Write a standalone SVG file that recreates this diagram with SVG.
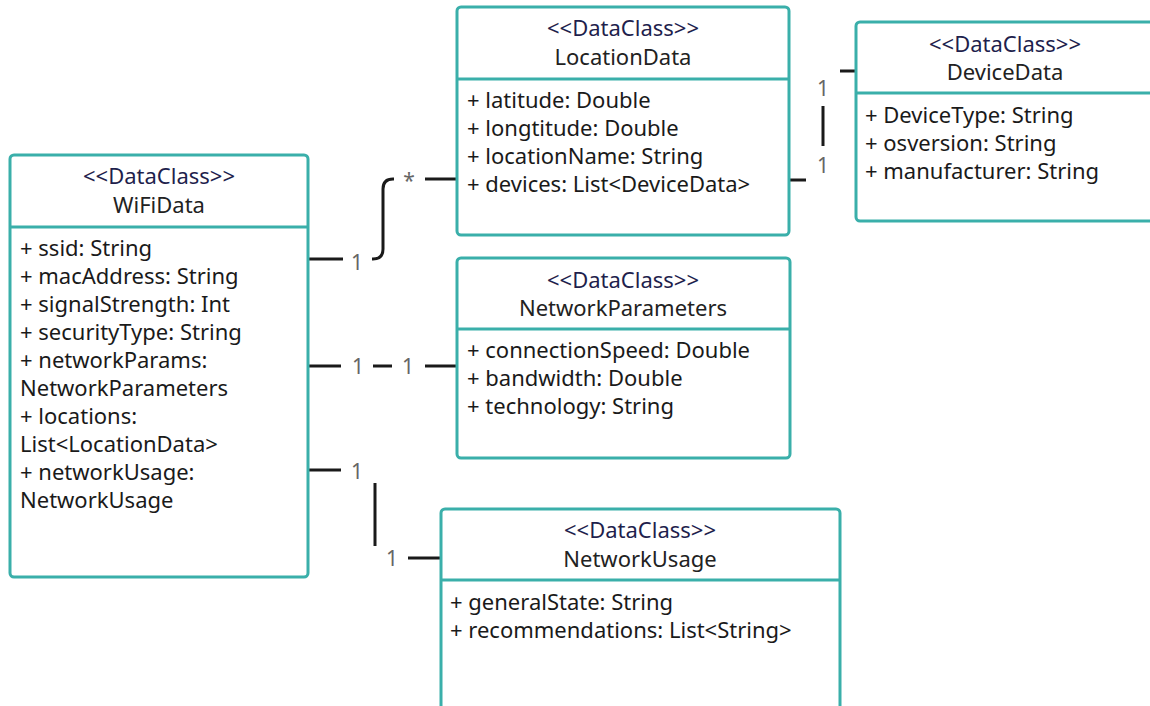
<svg xmlns="http://www.w3.org/2000/svg" width="1150" height="706" viewBox="0 0 1150 706">
<style>
.box{fill:#fff;stroke:#3aafaa;stroke-width:3}
.div{stroke:#3aafaa;stroke-width:3}
.st{font-family:"Noto Sans",sans-serif;font-size:22px;fill:#1f1f4d;text-anchor:middle}
.nm{font-family:"Noto Sans",sans-serif;font-size:22px;fill:#222;text-anchor:middle}
.at{font-family:"Noto Sans",sans-serif;font-size:22px;fill:#1a1a1a}
.conn{fill:none;stroke:#1a1a1a;stroke-width:3}
.lbl{font-family:"Noto Sans",sans-serif;font-size:21px;fill:#666;text-anchor:middle}
.bg{fill:#fff}
</style>
<rect width="1150" height="706" fill="#fff"/>
<g id="connectors">
<path class="conn" d="M308,259 H373 Q383,259 383,249 V189 Q383,179 393,179 H457"/>
<path class="conn" d="M308,366 H457"/>
<path class="conn" d="M308,470 H365 Q375,470 375,480 V548 Q375,558 385,558 H441"/>
<path class="conn" d="M789,180 H813 Q823,180 823,170 V81 Q823,71 833,71 H856"/>
<rect class="bg" x="343" y="247" width="29" height="28"/>
<text class="lbl" x="357" y="270">1</text>
<rect class="bg" x="394" y="164" width="31" height="28"/>
<text class="lbl" x="409" y="188">*</text>
<rect class="bg" x="341" y="352" width="32" height="28"/>
<text class="lbl" x="358" y="374">1</text>
<rect class="bg" x="392" y="352" width="33" height="28"/>
<text class="lbl" x="408" y="374">1</text>
<rect class="bg" x="341" y="456" width="37" height="27"/>
<text class="lbl" x="357" y="479">1</text>
<rect class="bg" x="373" y="546" width="35" height="28"/>
<text class="lbl" x="392" y="566">1</text>
<rect class="bg" x="806" y="146" width="34" height="38"/>
<text class="lbl" x="823" y="173">1</text>
<rect class="bg" x="808" y="66" width="32" height="40"/>
<text class="lbl" x="823" y="96">1</text>
</g>
<g id="WiFiData">
<rect class="box" x="10" y="155" width="298" height="422" rx="4"/>
<line class="div" x1="10" y1="227" x2="308" y2="227"/>
<text class="st" x="159" y="184">&lt;&lt;DataClass&gt;&gt;</text>
<text class="nm" x="159" y="213">WiFiData</text>
<text class="at" x="20" y="256">+ ssid: String</text>
<text class="at" x="20" y="284">+ macAddress: String</text>
<text class="at" x="20" y="312">+ signalStrength: Int</text>
<text class="at" x="20" y="340">+ securityType: String</text>
<text class="at" x="20" y="368">+ networkParams:</text>
<text class="at" x="20" y="396">NetworkParameters</text>
<text class="at" x="20" y="424">+ locations:</text>
<text class="at" x="20" y="452">List&lt;LocationData&gt;</text>
<text class="at" x="20" y="480">+ networkUsage:</text>
<text class="at" x="20" y="508">NetworkUsage</text>
</g>
<g id="LocationData">
<rect class="box" x="457" y="7" width="332" height="228" rx="4"/>
<line class="div" x1="457" y1="79" x2="789" y2="79"/>
<text class="st" x="623" y="36">&lt;&lt;DataClass&gt;&gt;</text>
<text class="nm" x="623" y="65">LocationData</text>
<text class="at" x="467" y="108">+ latitude: Double</text>
<text class="at" x="467" y="136">+ longtitude: Double</text>
<text class="at" x="467" y="164">+ locationName: String</text>
<text class="at" x="467" y="192">+ devices: List&lt;DeviceData&gt;</text>
</g>
<g id="DeviceData">
<rect class="box" x="856" y="22" width="300" height="199" rx="4"/>
<line class="div" x1="856" y1="93" x2="1156" y2="93"/>
<text class="st" x="1005" y="52">&lt;&lt;DataClass&gt;&gt;</text>
<text class="nm" x="1005" y="80">DeviceData</text>
<text class="at" x="865" y="123">+ DeviceType: String</text>
<text class="at" x="865" y="151">+ osversion: String</text>
<text class="at" x="865" y="179">+ manufacturer: String</text>
</g>
<g id="NetworkParameters">
<rect class="box" x="457" y="258" width="333" height="200" rx="4"/>
<line class="div" x1="457" y1="329" x2="790" y2="329"/>
<text class="st" x="623" y="288">&lt;&lt;DataClass&gt;&gt;</text>
<text class="nm" x="623" y="316">NetworkParameters</text>
<text class="at" x="467" y="358">+ connectionSpeed: Double</text>
<text class="at" x="467" y="386">+ bandwidth: Double</text>
<text class="at" x="467" y="414">+ technology: String</text>
</g>
<g id="NetworkUsage">
<rect class="box" x="441" y="509" width="399" height="220" rx="4"/>
<line class="div" x1="441" y1="580" x2="840" y2="580"/>
<text class="st" x="640" y="538">&lt;&lt;DataClass&gt;&gt;</text>
<text class="nm" x="640" y="567">NetworkUsage</text>
<text class="at" x="450" y="610">+ generalState: String</text>
<text class="at" x="450" y="638">+ recommendations: List&lt;String&gt;</text>
</g>
</svg>
